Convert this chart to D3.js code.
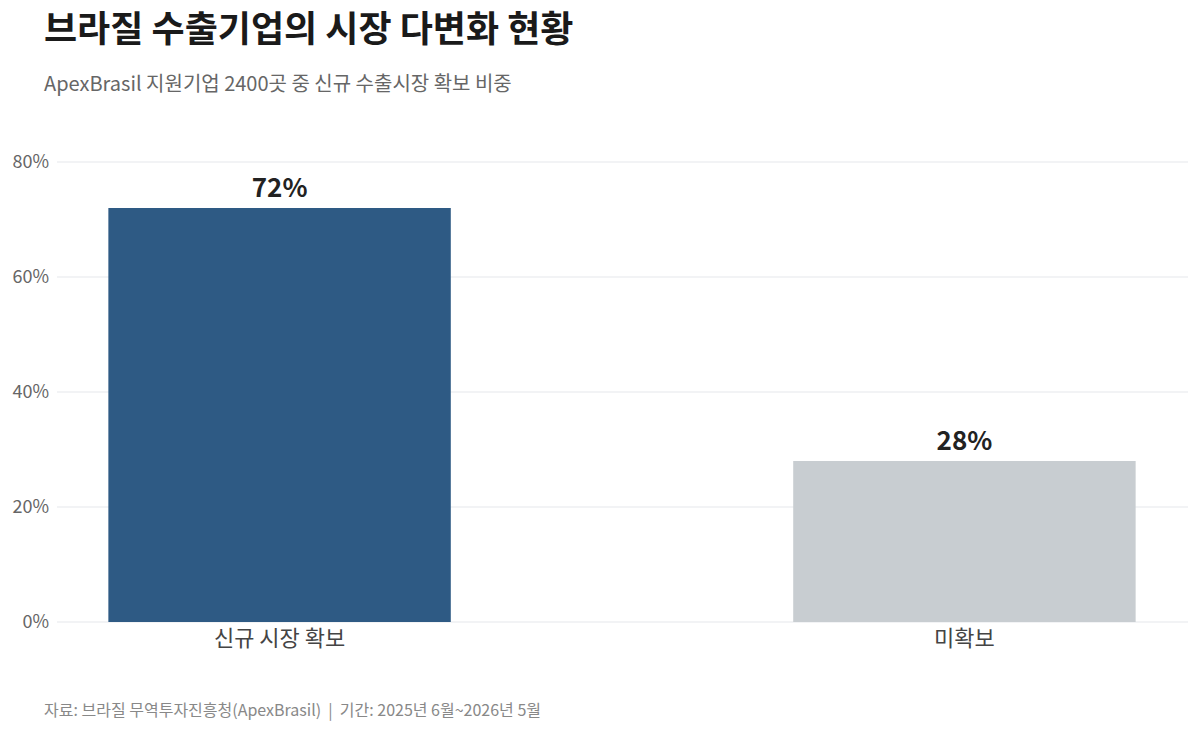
<!DOCTYPE html>
<html>
<head>
<meta charset="utf-8">
<script src="https://cdn.jsdelivr.net/npm/d3@7"></script>
<style>
  body { margin: 0; background: #fff; }
  svg { display: block; font-family: "Noto Sans CJK KR", "Noto Sans", sans-serif; }
</style>
</head>
<body>
<div id="chart"></div>
<script>
// Data
const categories = ['신규 시장 확보', '미확보'];
const shares = [72, 28];
const barColors = ['#2e5a84', '#c8cdd1'];
const yTicks = [0, 20, 40, 60, 80];

const width = 1200, height = 734;
const margin = { top: 162, right: 13, bottom: 112, left: 57 };

const svg = d3.select('#chart').append('svg')
    .attr('width', width)
    .attr('height', height);

// Title block
svg.append('text')
    .attr('x', 44).attr('y', 42)
    .attr('font-size', 36).attr('font-weight', 700)
    .attr('fill', '#1a1a1a')
    .text('브라질 수출기업의 시장 다변화 현황');

svg.append('text')
    .attr('x', 44).attr('y', 91)
    .attr('font-size', 20).attr('fill', '#666')
    .text('ApexBrasil 지원기업 2400곳 중 신규 수출시장 확보 비중');

// Scales
const x = d3.scaleBand()
    .domain(categories)
    .range([margin.left, width - margin.right])
    .paddingInner(0.5)
    .paddingOuter(0.075);

const y = d3.scaleLinear()
    .domain([0, 80])
    .range([height - margin.bottom, margin.top]);

// Grid lines
svg.append('g')
    .selectAll('line')
    .data(yTicks)
    .join('line')
    .attr('x1', margin.left)
    .attr('x2', width - margin.right + 1)
    .attr('y1', d => y(d))
    .attr('y2', d => y(d))
    .attr('stroke', '#e5e7eb')
    .attr('stroke-width', 1);

// Y axis labels
svg.append('g')
    .selectAll('text')
    .data(yTicks)
    .join('text')
    .attr('x', 49)
    .attr('y', d => y(d))
    .attr('dy', '0.35em')
    .attr('text-anchor', 'end')
    .attr('font-size', 18)
    .attr('fill', '#666')
    .text(d => d + '%');

// Bars
const rows = categories.map((c, i) => ({ cat: c, value: shares[i], color: barColors[i] }));

svg.append('g')
    .selectAll('rect')
    .data(rows)
    .join('rect')
    .attr('x', d => x(d.cat))
    .attr('y', d => y(d.value))
    .attr('width', x.bandwidth())
    .attr('height', d => y(0) - y(d.value))
    .attr('fill', d => d.color);

// Value labels
svg.append('g')
    .selectAll('text')
    .data(rows)
    .join('text')
    .attr('x', d => x(d.cat) + x.bandwidth() / 2)
    .attr('y', d => y(d.value) - 11)
    .attr('text-anchor', 'middle')
    .attr('font-size', 26)
    .attr('font-weight', 700)
    .attr('fill', '#222')
    .text(d => d.value + '%');

// Category labels
svg.append('g')
    .selectAll('text')
    .data(categories)
    .join('text')
    .attr('x', d => x(d) + x.bandwidth() / 2)
    .attr('y', y(0) + 24)
    .attr('text-anchor', 'middle')
    .attr('font-size', 22)
    .attr('fill', '#444')
    .text(d => d);

// Footer
svg.append('text')
    .attr('x', 44).attr('y', 716)
    .attr('font-size', 16).attr('fill', '#888')
    .attr('xml:space', 'preserve')
    .text('자료: 브라질 무역투자진흥청(ApexBrasil)  |  기간: 2025년 6월~2026년 5월');
</script>
</body>
</html>
